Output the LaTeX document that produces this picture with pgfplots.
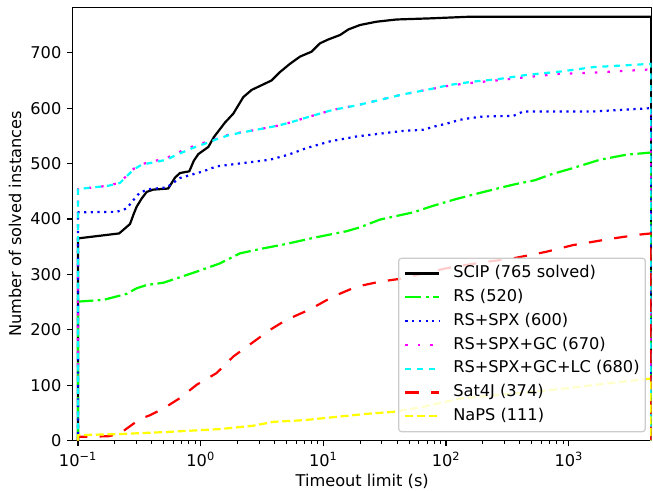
\documentclass[border=0pt]{standalone}
\usepackage{fontspec}
\setmainfont{DejaVu Sans}
\usepackage{pgfplots}
\pgfplotsset{compat=1.18}
\definecolor{cgreen}{RGB}{0,255,0}
\definecolor{cblue}{RGB}{0,0,255}
\definecolor{cmag}{RGB}{255,0,255}
\definecolor{ccyan}{RGB}{0,255,255}
\definecolor{cred}{RGB}{255,0,0}
\definecolor{cyel}{RGB}{255,255,0}
\newcommand{\mpl}{\fontsize{16.2}{19}\selectfont}
\begin{document}
\begin{tikzpicture}
\useasboundingbox (-72.7pt,-49.3pt) rectangle (580.3pt,440.7pt);
\begin{axis}[
  at={(0pt,0pt)}, anchor=south west,
  scale only axis, width=579pt, height=433.4pt,
  xmode=log, xmin=0.0907, xmax=4750, ymin=0, ymax=782,
  axis line style={line width=1.2pt},
  tick align=outside, tick pos=left,
  major tick length=5.6pt, minor tick length=3.2pt,
  every tick/.style={black, line width=1.2pt},
  every minor tick/.style={black, line width=0.9pt},
  xtick={0.1,1,10,100,1000},
  xticklabels={10\textsuperscript{−1},10\textsuperscript{0},10\textsuperscript{1},10\textsuperscript{2},10\textsuperscript{3}},
  ytick={0,100,200,300,400,500,600,700},
  yticklabels={0,100,200,300,400,500,600,700},
  tick label style={font=\mpl},
  xticklabel style={inner sep=0pt, yshift=-5.6pt},
  yticklabel style={inner sep=0pt, xshift=-5.6pt},
  label style={font=\mpl},
  xlabel={Timeout limit (s)},
  ylabel={Number of solved instances},
  xlabel style={at={(axis description cs:0.5,0)}, anchor=center, yshift=-40.3pt},
  ylabel style={at={(axis description cs:0,0.5)}, anchor=center, yshift=57.7pt},
  legend cell align=left,
  legend style={at={(rel axis cs:0.990,0.0194)}, anchor=south east,
    font=\mpl, draw=black!20, line width=1.2pt, rounded corners=3pt,
    fill=white, fill opacity=0.8, text opacity=1,
    inner xsep=5.7pt, inner ysep=7.6pt, row sep=8.3pt, column sep=12.7pt,
    nodes={inner sep=0pt, text height=12pt, text depth=3.5pt}},
  legend image code/.code={\draw[#1] (0pt,0pt) -- (34pt,0pt);},
  line join=round,
]
\addplot[black, solid, line width=2.2pt] coordinates {
(0.1,0) (0.1,365) (0.217,374) (0.266,391) (0.286,410) (0.301,422) (0.331,437) (0.364,449) (0.411,453) (0.545,455) (0.62,475) (0.68,483) (0.809,486) (0.88,505) (0.957,517) (1.156,530) (1.285,548) (1.58,574) (1.846,590) (2.23,620) (2.61,633) (3.79,650) (4.43,665) (5.35,680) (6.46,693) (8.04,702) (9.4,717) (11,724) (13.7,732) (16,742) (19.9,750) (27.2,756) (39.6,760) (74,762) (157,765) (4700,765) (4700,0)};
\addlegendentry{SCIP (765 solved)}
\addplot[cgreen, line width=2.2pt, dash pattern=on 16pt off 4.5pt on 2.7pt off 4.5pt] coordinates {
(0.1,0) (0.1,251) (0.161,254) (0.25,265) (0.301,275) (0.364,281) (0.497,285) (0.68,295) (0.93,305) (1.44,320) (2.09,338) (3.24,347) (5.0,355) (8.3,366) (15.5,378) (19.9,385) (29,399) (54,412) (79,424) (121,436) (188,447) (353,462) (531,470) (705,480) (1089,492) (1800,507) (2950,516) (4700,520) (4700,0)};
\addlegendentry{RS (520)}
\addplot[cblue, line width=2.2pt, dash pattern=on 2.2pt off 4.5pt] coordinates {
(0.1,0) (0.1,412) (0.207,413) (0.25,419) (0.283,434) (0.32,448) (0.387,454) (0.53,457) (0.68,474) (1.05,486) (1.35,495) (2.23,501) (3.68,507) (5.19,516) (7.3,528) (11.3,540) (18.7,549) (29,554) (45,559) (65,561) (84,568) (101,572) (130,579) (157,582) (201,585) (353,586) (427,594) (1585,594) (4700,600) (4700,0)};
\addlegendentry{RS+SPX (600)}
\addplot[cmag, line width=2.2pt, dash pattern=on 2.5pt off 10pt] coordinates {
(0.1,0) (0.1,454) (0.177,460) (0.22,466) (0.283,490) (0.331,499) (0.53,510) (0.639,519) (0.93,534) (1.12,539) (1.35,545) (1.74,553) (2.69,560) (4.17,568) (5.35,574) (7.8,585) (12,597) (18.7,605) (29,615) (44.9,625) (69.6,633) (108,641) (167,646) (259,650) (455,656) (849,662) (1585,664) (4700,670) (4700,0)};
\addlegendentry{RS+SPX+GC (670)}
\addplot[ccyan, line width=2.2pt, dash pattern=on 6pt off 5.7pt] coordinates {
(0.1,0) (0.1,454) (0.177,460) (0.22,465) (0.283,489) (0.331,498) (0.53,507) (0.639,516) (0.93,531) (1.12,537) (1.35,544) (1.74,552) (2.69,560) (4.17,568) (5.35,574) (7.8,585) (12,597) (18.7,605) (29,615) (44.9,625) (69.6,633) (108,642) (167,648) (259,652) (455,660) (849,666) (1585,674) (4700,680) (4700,0)};
\addlegendentry{RS+SPX+GC+LC (680)}
\addplot[cred, line width=2.2pt, dash pattern=on 13.3pt off 12.3pt] coordinates {
(0.1,0) (0.1,7) (0.177,8) (0.22,13) (0.32,39) (0.387,46) (0.497,58) (0.68,77) (0.93,101) (1.35,122) (1.85,152) (2.61,176) (3.68,200) (5.0,218) (7.8,237) (12,260) (18.7,278) (29,287) (42,292) (60,300) (100,311) (200,322) (353,329) (661,341) (1089,353) (2307,365) (3810,372) (4700,374) (4700,0)};
\addlegendentry{Sat4J (374)}
\addplot[cyel, line width=2.2pt, dash pattern=on 8pt off 3.7pt] coordinates {
(0.1,0) (0.1,10) (0.22,12) (0.56,16) (1.44,21) (2.69,27) (3.9,34) (6.9,37) (12.8,43) (24,49) (37,52) (65,61) (130,76) (250,82) (500,88) (1000,95) (2000,103) (3810,110) (4700,112) (4700,0)};
\addlegendentry{NaPS (111)}
\end{axis}
\end{tikzpicture}
\end{document}
